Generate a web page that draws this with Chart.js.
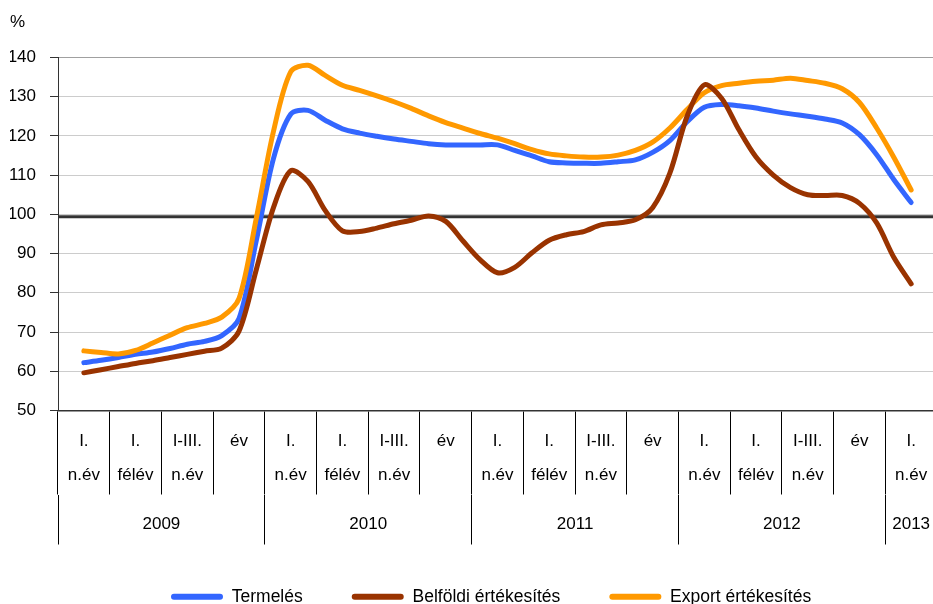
<!DOCTYPE html>
<html>
<head>
<meta charset="utf-8">
<script src="https://cdn.jsdelivr.net/npm/chart.js@4.4.1/dist/chart.umd.min.js"></script>
<style>
html,body{margin:0;padding:0;overflow:hidden;background:#fff;width:933px;height:604px}
#wrap{width:937px;height:604px}
</style>
</head>
<body>
<div id="wrap"><canvas id="c" width="937" height="604"></canvas></div>
<script>
// ---- categories (quarter row + year row) ----
const quarterLabels = [
  ['I.','n.év'],['I.','félév'],['I-III.','n.év'],['év'],
  ['I.','n.év'],['I.','félév'],['I-III.','n.év'],['év'],
  ['I.','n.év'],['I.','félév'],['I-III.','n.év'],['év'],
  ['I.','n.év'],['I.','félév'],['I-III.','n.év'],['év'],
  ['I.','n.év']
];
const yearLabels  = ['2009','2010','2011','2012','2013'];
const yearCenters = [2, 6, 10, 14, 16.5];   // in category units
const yearBounds  = [0, 4, 8, 12, 16, 17];  // in category units

// ---- series (monthly readings, first at 2009 I. n.év, last at 2013 I. n.év) ----
const seriesNames = ['Termelés', 'Belföldi értékesítés', 'Export értékesítés'];
const termeles = [62.2,62.8,63.5,64.3,64.9,65.8,66.9,67.6,69.1,73.4,93.2,114.2,125.5,126.5,124.0,121.8,120.7,119.9,119.2,118.6,118.0,117.7,117.7,117.7,117.7,116.3,114.9,113.4,113.1,113.0,113.0,113.4,113.9,115.8,118.8,123.6,127.3,128.0,127.7,127.1,126.3,125.6,125.0,124.3,123.3,120.3,115.2,108.8,103.0];
const belfoldi = [59.6,60.4,61.2,62.0,62.7,63.5,64.3,65.1,65.9,70.2,85.8,101.7,111.1,108.4,101.0,95.8,95.6,96.5,97.6,98.5,99.6,98.2,93.2,88.4,85.1,86.5,90.2,93.4,94.8,95.6,97.3,97.8,98.6,101.7,110.5,125.0,133.0,129.6,121.6,114.6,110.0,106.8,105.0,104.8,104.8,102.8,97.8,89.0,82.3];
const exportErt = [65.2,64.8,64.4,65.3,67.2,69.2,71.1,72.2,73.8,78.5,98.9,121.1,136.3,138.0,135.4,132.9,131.6,130.2,128.7,127.0,125.1,123.4,122.0,120.6,119.4,118.0,116.5,115.4,114.9,114.6,114.6,115.1,116.3,118.4,122.0,126.7,131.0,132.8,133.4,133.9,134.2,134.7,134.1,133.4,132.0,128.5,122.0,114.5,106.2];
const refLevel = 99.4;
const yTicks = {min: 50, max: 140, step: 10};

// three monthly observations per category, the first centred in category 0
const toPoints = arr => arr.map((v, i) => ({x: 0.5 + i / 3, y: v}));

Chart.defaults.font.family = "'Liberation Sans', Arial, sans-serif";
Chart.defaults.color = '#000';

const legendShift = {
  id: 'legendShift',
  afterLayout(chart) {
    const lg = chart.legend;
    if (lg) { const dx = 122 - lg.left; lg.left += dx; lg.right += dx; }
  }
};

new Chart(document.getElementById('c'), {
  type: 'line',
  data: {
    datasets: [
      {label: seriesNames[0], data: toPoints(termeles), borderColor: '#3366ff', backgroundColor: '#3366ff', order: 3},
      {label: seriesNames[1], data: toPoints(belfoldi), borderColor: '#993300', backgroundColor: '#993300', order: 1},
      {label: seriesNames[2], data: toPoints(exportErt), borderColor: '#ff9900', backgroundColor: '#ff9900', order: 2},
      {label: 'ref', data: [{x: yearBounds[0], y: refLevel}, {x: yearBounds[yearBounds.length - 1], y: refLevel}],
       borderColor: '#333333', backgroundColor: '#333333', borderWidth: 3, tension: 0, order: 10}
    ]
  },
  options: {
    responsive: false,
    animation: false,
    layout: {padding: {left: 10, top: 0, right: 0, bottom: 0}},
    elements: {
      point: {radius: 0, hoverRadius: 0},
      line: {borderWidth: 5, tension: 0.3, borderCapStyle: 'round', borderJoinStyle: 'round', fill: false}
    },
    scales: {
      x: {type: 'linear', min: 0, max: 17, display: false},
      xq: {
        type: 'category', position: 'bottom', labels: quarterLabels, offset: true, weight: 0,
        grid: {offset: true, drawOnChartArea: false, tickLength: 84, color: '#000', lineWidth: 1},
        border: {display: true, color: '#333', width: 1.5},
        ticks: {padding: -70, autoSkip: false, maxRotation: 0, color: '#000', font: {size: 17, lineHeight: 2}},
        afterFit: s => { s.height = 84; }
      },
      xy: {
        type: 'linear', position: 'bottom', min: 0, max: 17, weight: 1,
        afterBuildTicks: s => {
          s.ticks = [...yearBounds, ...yearCenters].sort((a, b) => a - b).map(v => ({value: v}));
        },
        grid: {
          drawOnChartArea: false, tickLength: 50, lineWidth: 1,
          color: ctx => (ctx.tick && yearBounds.includes(ctx.tick.value)) ? '#000' : 'rgba(0,0,0,0)'
        },
        border: {display: false},
        ticks: {
          padding: -30, autoSkip: false, maxRotation: 0, color: '#000', font: {size: 17},
          callback: v => { const i = yearCenters.indexOf(v); return i >= 0 ? yearLabels[i] : ''; }
        },
        afterFit: s => { s.height = 44.5; }
      },
      y: {
        min: yTicks.min, max: yTicks.max,
        ticks: {stepSize: yTicks.step, padding: 14, color: '#000', font: {size: 17}},
        grid: {
          color: ctx => (ctx.tick && ctx.tick.value === yTicks.max) ? '#a0a0a0' : '#cccccc',
          lineWidth: 1, tickLength: 8, tickColor: '#333'
        },
        border: {color: '#333', width: 1},
        afterFit: s => { s.width = 48; }
      }
    },
    plugins: {
      title: {display: true, text: '%', align: 'start', color: '#000',
              font: {size: 17, weight: 'normal'}, padding: {top: 12, bottom: 25}},
      legend: {
        display: true, position: 'bottom', align: 'start', maxHeight: 65,
        labels: {
          boxWidth: 52, boxHeight: 6, padding: 49, color: '#000', font: {size: 17.5},
          useBorderRadius: true, borderRadius: 3,
          sort: (a, b) => a.datasetIndex - b.datasetIndex,
          filter: item => item.text !== 'ref',
          generateLabels: chart => {
            const items = Chart.defaults.plugins.legend.labels.generateLabels(chart);
            items.forEach(it => { it.lineWidth = 0; it.fillStyle = it.strokeStyle; });
            return items;
          }
        }
      },
      tooltip: {enabled: false}
    }
  },
  plugins: [legendShift]
});
</script>
</body>
</html>
